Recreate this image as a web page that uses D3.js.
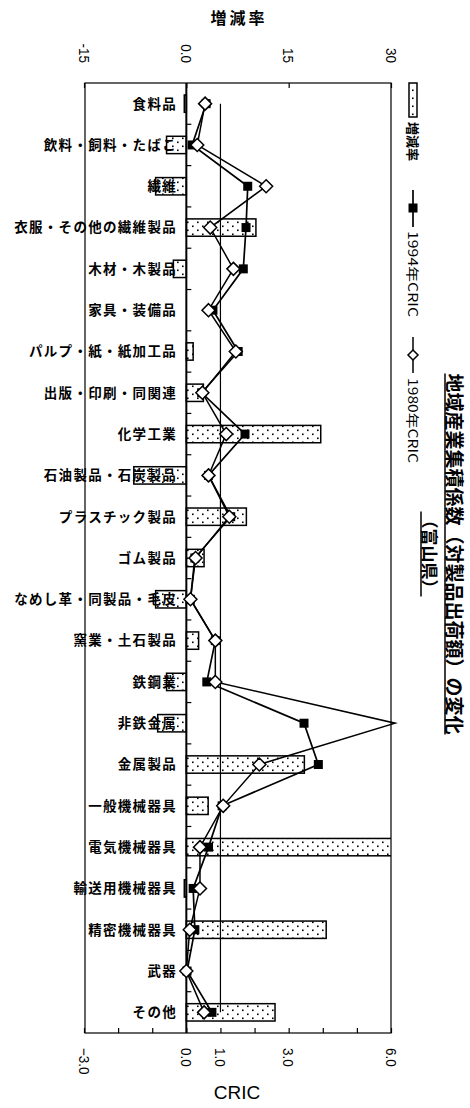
<!DOCTYPE html>
<html>
<head>
<meta charset="utf-8">
<script src="https://d3js.org/d3.v7.min.js"></script>
<style>
  body { margin: 0; background: #fff; }
  .num { font-family: "Liberation Sans", Arial, sans-serif; }
  .jp { font-family: "Noto Sans CJK JP", sans-serif; }
</style>
</head>
<body>
<svg id="chart" width="470" height="1108"></svg>
<script>
// categories, top to bottom
const categories = ['食料品', '飲料・飼料・たばこ', '繊維', '衣服・その他の繊維製品', '木材・木製品', '家具・装備品',
  'パルプ・紙・紙加工品', '出版・印刷・同関連', '化学工業', '石油製品・石炭製品', 'プラスチック製品', 'ゴム製品',
  'なめし革・同製品・毛皮', '窯業・土石製品', '鉄鋼業', '非鉄金属', '金属製品', '一般機械器具', '電気機械器具',
  '輸送用機械器具', '精密機械器具', '武器', 'その他'];
// 増減率 (%)
const rate = [-0.3, -2.9, -4.5, 10.2, -1.9, 0, 1.0, 2.5, 19.7, -7.7, 8.8, 2.6, -4.5, 1.8, -2.9, -4.2, 17.3, 3.2, 33, -0.3, 20.5, 0, 13.0];
const cric1994 = [0.58, 0.17, 1.8, 1.75, 1.67, 0.78, 1.52, 0.45, 1.72, 0.65, 1.3, 0.25, 0.12, 0.85, 0.6, 3.45, 3.87, 1.05, 0.65, 0.2, 0.25, 0.02, 0.75];
const cric1980 = [0.55, 0.32, 2.34, 0.7, 1.38, 0.65, 1.45, 0.47, 1.17, 0.65, 1.26, 0.27, 0.12, 0.85, 0.85, 6.12, 2.14, 1.08, 0.4, 0.4, 0.1, 0.0, 0.52];
const refLine = 1.0;
const cricTicks = [-3, -2, -1, 0, 1, 2, 3, 4, 5, 6];
const cricLabels = [-3, 0, 1, 3, 6];
const rateTicks = [-15, 0, 15, 30];
const rateLabels = ['-15', '0.0', '15', '30'];

const svg = d3.select('#chart');
const plot = { left: 84, right: 391, top: 83, bottom: 1033 };

const x = d3.scaleLinear().domain([-3, 6]).range([plot.left, plot.right]);
const xr = d3.scaleLinear().domain([-15, 30]).range([plot.left, plot.right]);
const y = d3.scaleBand().domain(categories).range([plot.top, plot.bottom]).paddingInner(0.58).paddingOuter(0.29);
const step = y.step();
const cy = (d) => y(d) + y.bandwidth() / 2;

const defs = svg.append('defs');
const pat = defs.append('pattern').attr('id', 'dots').attr('patternUnits', 'userSpaceOnUse')
  .attr('width', 10).attr('height', 8);
pat.append('rect').attr('x', 2).attr('y', 1.5).attr('width', 1.6).attr('height', 1.6).attr('fill', '#000');
pat.append('rect').attr('x', 7).attr('y', 5.5).attr('width', 1.6).attr('height', 1.6).attr('fill', '#000');
defs.append('clipPath').attr('id', 'clip').append('rect')
  .attr('x', plot.left).attr('y', plot.top).attr('width', plot.right - plot.left).attr('height', plot.bottom - plot.top);

// category labels (inside the plot, left of zero)
svg.append('g').selectAll('text').data(categories).join('text')
  .attr('class', 'jp')
  .attr('x', 177).attr('y', (d) => cy(d)).attr('dy', '0.36em')
  .attr('text-anchor', 'end').attr('font-size', 13.5).attr('font-weight', 'bold')
  .attr('letter-spacing', 1.3)
  .text((d) => d);

// bars
svg.append('g').attr('clip-path', 'url(#clip)').selectAll('rect').data(categories).join('rect')
  .attr('x', (d, i) => Math.min(xr(0), xr(rate[i])))
  .attr('width', (d, i) => Math.abs(xr(rate[i]) - xr(0)))
  .attr('y', (d) => y(d)).attr('height', y.bandwidth())
  .attr('fill', 'url(#dots)').attr('stroke', '#000').attr('stroke-width', 1.5)
  .style('display', (d, i) => (rate[i] === 0 ? 'none' : null));

// plot border
svg.append('rect').attr('x', plot.left + 1).attr('y', plot.top).attr('width', plot.right - plot.left - 1)
  .attr('height', plot.bottom - plot.top).attr('fill', 'none').attr('stroke', '#000').attr('stroke-width', 1.2);

// bottom axis ticks
svg.append('g').attr('transform', `translate(0,${plot.bottom})`)
  .call(d3.axisBottom(x).tickValues(cricTicks).tickSize(-5).tickFormat(''))
  .call((g) => g.select('.domain').remove())
  .selectAll('line').attr('stroke-width', 1.2);
// top axis ticks
svg.append('g').attr('transform', `translate(0,${plot.top})`)
  .call(d3.axisTop(xr).tickValues(rateTicks).tickSize(-5).tickFormat(''))
  .call((g) => g.select('.domain').remove())
  .selectAll('line').attr('stroke-width', 1.2);

// zero line and category ticks
svg.append('line').attr('x1', x(0)).attr('x2', x(0)).attr('y1', plot.top).attr('y2', plot.bottom)
  .attr('stroke', '#000').attr('stroke-width', 2);
svg.append('g').selectAll('line').data(categories.slice(1)).join('line')
  .attr('x1', x(0)).attr('x2', x(0) + 5)
  .attr('y1', (d) => y(d) - step * y.paddingInner() / 2).attr('y2', (d) => y(d) - step * y.paddingInner() / 2)
  .attr('stroke', '#000').attr('stroke-width', 1.2);

// reference line CRIC = 1.0
svg.append('line').attr('x1', x(refLine)).attr('x2', x(refLine))
  .attr('y1', cy(categories[0])).attr('y2', cy(categories[categories.length - 1]))
  .attr('stroke', '#000').attr('stroke-width', 1.2);

// tick labels, rotated
svg.append('g').selectAll('text').data(cricLabels).join('text')
  .attr('class', 'num').attr('font-size', 15)
  .attr('transform', (d) => `translate(${x(d)},1048) rotate(90) scale(0.9,1)`)
  .attr('dy', '0.36em').attr('text-anchor', 'start')
  .text((d) => d3.format('.1f')(d));
svg.append('g').selectAll('text').data(rateTicks).join('text')
  .attr('class', 'num').attr('font-size', 15)
  .attr('transform', (d) => `translate(${xr(d)},63) rotate(90) scale(0.9,1)`)
  .attr('dy', '0.36em').attr('text-anchor', 'end')
  .text((d, i) => rateLabels[i]);

// axis titles
svg.append('text').attr('class', 'jp').attr('x', 239).attr('y', 24).attr('text-anchor', 'middle')
  .attr('font-size', 16).attr('font-weight', 'bold').attr('letter-spacing', 3).text('増減率');
svg.append('text').attr('class', 'num').attr('x', 237).attr('y', 1099).attr('text-anchor', 'middle')
  .attr('font-size', 19).text('CRIC');

// lines
const line = (vals) => d3.line().x((d, i) => x(vals[i])).y((d) => cy(d))(categories);
svg.append('path').attr('d', line(cric1994)).attr('fill', 'none').attr('stroke', '#000').attr('stroke-width', 1.7);
svg.append('g').selectAll('rect').data(categories).join('rect')
  .attr('x', (d, i) => x(cric1994[i]) - 4.5).attr('y', (d) => cy(d) - 4.5)
  .attr('width', 9).attr('height', 9).attr('fill', '#000');

const diamond = 'M0,-6.5L6.5,0L0,6.5L-6.5,0Z';
svg.append('path').attr('d', line(cric1980)).attr('fill', 'none').attr('stroke', '#000').attr('stroke-width', 1.5);
svg.append('g').selectAll('path').data(categories.filter((d, i) => cric1980[i] <= 6)).join('path')
  .attr('d', diamond)
  .attr('transform', (d) => `translate(${x(cric1980[categories.indexOf(d)])},${cy(d)})`)
  .attr('fill', '#fff').attr('stroke', '#000').attr('stroke-width', 1.5);

// legend (rotated)
const lx = 413;
svg.append('rect').attr('x', lx - 4).attr('y', 83).attr('width', 8).attr('height', 34)
  .attr('fill', 'url(#dots)').attr('stroke', '#000').attr('stroke-width', 1.5);
svg.append('text').attr('class', 'jp').attr('font-size', 13).attr('font-weight', 'bold')
  .attr('transform', `translate(${lx},122) rotate(90)`).attr('dy', '0.36em').text('増減率');
svg.append('line').attr('x1', lx).attr('x2', lx).attr('y1', 190).attr('y2', 227).attr('stroke', '#000').attr('stroke-width', 1.7);
svg.append('rect').attr('x', lx - 4.5).attr('y', 208 - 4.5).attr('width', 9).attr('height', 9).attr('fill', '#000');
svg.append('text').attr('class', 'jp').attr('font-size', 13)
  .attr('transform', `translate(${lx},231) rotate(90)`).attr('dy', '0.36em')
  .attr('textLength', 86).attr('lengthAdjust', 'spacingAndGlyphs').text('1994年CRIC');
svg.append('line').attr('x1', lx).attr('x2', lx).attr('y1', 337).attr('y2', 373).attr('stroke', '#000').attr('stroke-width', 1.5);
svg.append('path').attr('d', 'M0,-5L5,0L0,5L-5,0Z').attr('transform', `translate(${lx},355)`)
  .attr('fill', '#fff').attr('stroke', '#000').attr('stroke-width', 1.5);
svg.append('text').attr('class', 'jp').attr('font-size', 13)
  .attr('transform', `translate(${lx},378) rotate(90)`).attr('dy', '0.36em')
  .attr('textLength', 85).attr('lengthAdjust', 'spacingAndGlyphs').text('1980年CRIC');

// title (rotated, underlined)
const titles = [
  { text: '地域産業集積係数（対製品出荷額）の変化', x: 447, size: 19 },
  { text: '（富山県）', x: 423, size: 17 }
];
titles.forEach((t) => {
  const g = svg.append('g').attr('transform', `translate(${t.x},554) rotate(90)`);
  const txt = g.append('text').attr('class', 'jp').attr('font-size', t.size).attr('font-weight', 'bold')
    .attr('text-anchor', 'middle').text(t.text);
  const len = txt.node().getComputedTextLength();
  g.append('line').attr('x1', -len / 2).attr('x2', len / 2).attr('y1', 2).attr('y2', 2)
    .attr('stroke', '#000').attr('stroke-width', 1.5);
});
</script>
</body>
</html>
